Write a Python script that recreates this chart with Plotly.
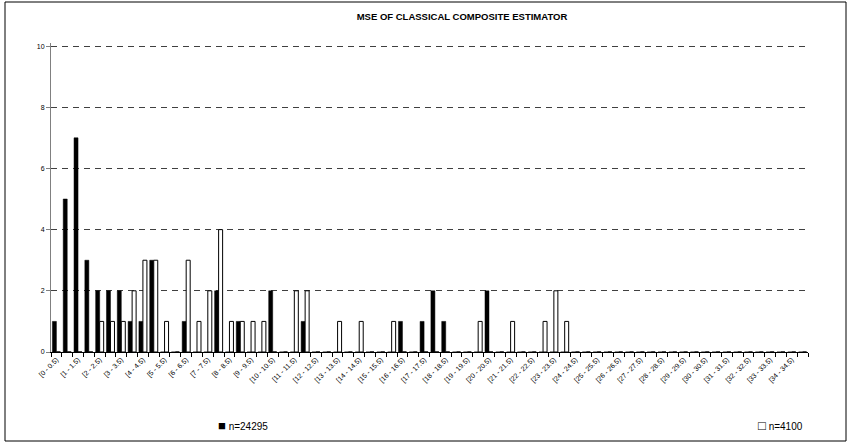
import plotly.graph_objects as go

# Categories: MSE bins of width 0.5 from 0 to 35
bin_starts = [i * 0.5 for i in range(70)]
def fmt(v):
    return ("%g" % v)
categories = ["[%s - %s)" % (fmt(s), fmt(s + 0.5)) for s in bin_starts]

series_names = ["n=24295", "n=4100"]

counts_24295 = [1, 5, 7, 3, 2, 2, 2, 1, 1, 3,
                0, 0, 1, 0, 0, 2, 0, 1, 0, 0,
                2, 0, 0, 1, 0, 0, 0, 0, 0, 0,
                0, 0, 1, 0, 1, 2, 1, 0, 0, 0,
                2, 0, 0, 0, 0, 0, 0, 0, 0, 0,
                0, 0, 0, 0, 0, 0, 0, 0, 0, 0,
                0, 0, 0, 0, 0, 0, 0, 0, 0, 0]

counts_4100 = [0, 0, 0, 0, 1, 1, 1, 2, 3, 3,
               1, 0, 3, 1, 2, 4, 1, 1, 1, 1,
               0, 0, 2, 2, 0, 0, 1, 0, 1, 0,
               0, 1, 0, 0, 0, 0, 0, 0, 0, 1,
               0, 0, 1, 0, 0, 1, 2, 1, 0, 0,
               0, 0, 0, 0, 0, 0, 0, 0, 0, 0,
               0, 0, 0, 0, 0, 0, 0, 0, 0, 0]

y_ticks = [0, 2, 4, 6, 8, 10]

x_idx = list(range(len(categories)))
label_idx = x_idx[::2]
label_text = [categories[i] for i in label_idx]

fig = go.Figure()
fig.add_trace(go.Bar(x=x_idx, y=counts_24295, name=series_names[0],
                     marker=dict(color="black", line=dict(color="black", width=0.5)),
                     customdata=categories, hovertemplate="%{customdata}: %{y}<extra>n=24295</extra>"))
fig.add_trace(go.Bar(x=x_idx, y=counts_4100, name=series_names[1],
                     marker=dict(color="white", line=dict(color="black", width=1)),
                     customdata=categories, hovertemplate="%{customdata}: %{y}<extra>n=4100</extra>"))

W, H = 849, 446
L, R, T, B = 51, 41, 43, 94
pw, ph = W - L - R, H - T - B

def px_to_paper_x(px):
    return (px - L) / pw

def px_to_paper_y(py):
    return (H - B - py) / ph

fig.update_layout(
    width=W, height=H,
    margin=dict(l=L, r=R, t=T, b=B, pad=0),
    paper_bgcolor="white", plot_bgcolor="white",
    barmode="group", bargap=0.26, bargroupgap=0,
    showlegend=False,
    font=dict(family="Liberation Sans, Arial, sans-serif", color="black", size=7),
    title=dict(text="<b>MSE OF CLASSICAL COMPOSITE ESTIMATOR</b>",
               x=px_to_paper_x(462), xref="paper", xanchor="center",
               y=1 - 17 / H, yref="container", yanchor="middle",
               font=dict(size=9.5, color="black")),
)

fig.update_xaxes(
    range=[-0.5, len(categories) - 0.5],
    tickmode="array", tickvals=label_idx, ticktext=label_text,
    tickangle=-45, ticks="", tickfont=dict(size=7, color="black"),
    showgrid=False, zeroline=False,
    showline=True, linecolor="black", linewidth=1,
    minor=dict(ticks="outside", tickmode="linear", tick0=-0.5, dtick=1,
               ticklen=4, tickcolor="black", tickwidth=1, showgrid=False),
)

fig.update_yaxes(
    range=[0, 10.1], tickmode="array", tickvals=y_ticks,
    ticks="outside", ticklen=4, tickcolor="#808080",
    tickfont=dict(size=7, color="black"),
    showgrid=True, gridcolor="#404040", gridwidth=1, griddash="6px,5px",
    zeroline=False, showline=True, linecolor="#808080", linewidth=1,
)

# outer border of the chart area
fig.add_shape(type="rect", xref="paper", yref="paper",
              x0=px_to_paper_x(5), x1=px_to_paper_x(846),
              y0=px_to_paper_y(441), y1=px_to_paper_y(2),
              line=dict(color="black", width=1), fillcolor="rgba(0,0,0,0)", layer="below")

# legend entries (placed as in the reference)
fig.add_annotation(text="<span style='font-size:13px'>\u25a0</span> " + series_names[0],
                   xref="paper", yref="paper",
                   x=px_to_paper_x(216), y=px_to_paper_y(425), xanchor="left", yanchor="middle",
                   showarrow=False, font=dict(size=10, color="black"))
fig.add_annotation(text="<span style='font-size:13px'>\u25a1</span> " + series_names[1],
                   xref="paper", yref="paper",
                   x=px_to_paper_x(756), y=px_to_paper_y(425), xanchor="left", yanchor="middle",
                   showarrow=False, font=dict(size=10, color="black"))

fig.write_html("out.html", config={"displayModeBar": False},
               post_script="document.body.style.margin='0';document.body.style.overflow='hidden';")
